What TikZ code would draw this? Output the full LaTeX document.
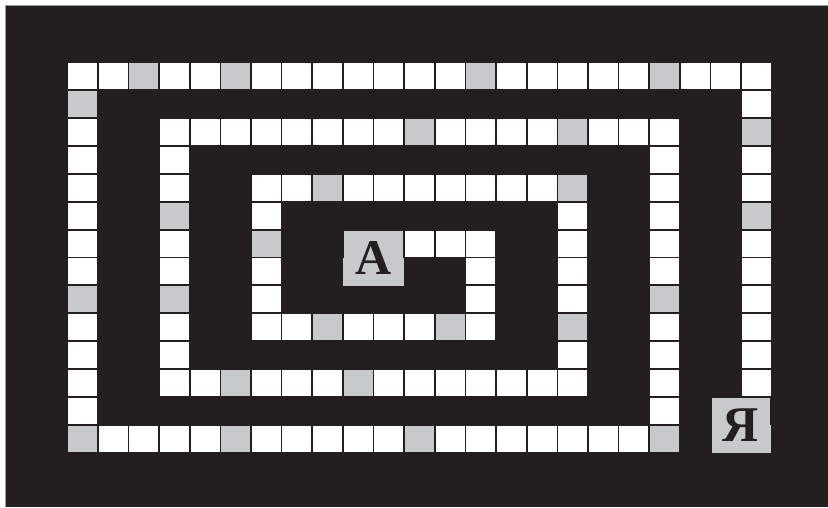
\documentclass[tikz,border=0pt]{standalone}
\usepackage{fontspec}
\setmainfont{Liberation Serif}
\definecolor{bgdark}{HTML}{231F20}
\definecolor{cellgray}{HTML}{C8C9CB}
\definecolor{edgegray}{HTML}{9A9A9A}
\tikzset{
  wcell/.style={fill=white},
  gcell/.style={fill=cellgray},
  lettertext/.style={inner sep=0pt, text=bgdark, font=\fontsize{50}{50}\selectfont\bfseries}
}
\newcommand\cellat[3]{\fill[#1] ({68+30.636*(#2)},{-(63+27.92*(#3))}) rectangle ++(29,-26);}
\begin{document}
\begin{tikzpicture}[x=1pt,y=1pt]
\useasboundingbox (0,0) rectangle (828,-507);
\fill[white] (0,0) rectangle (828,-507);
\fill[bgdark] (5.5,-5.5) rectangle (828,-507);
\draw[edgegray, line width=0.6pt] (5.5,-507) -- (5.5,-5.5) -- (828,-5.5);
% outer ring
\foreach \c in {0,...,22} {\cellat{wcell}{\c}{0}}
\foreach \r in {1,...,13} {\cellat{wcell}{0}{\r}}
\foreach \c in {1,...,19} {\cellat{wcell}{\c}{13}}
\foreach \r in {1,...,11} {\cellat{wcell}{22}{\r}}
% second ring
\foreach \c in {3,...,19} {\cellat{wcell}{\c}{2}}
\foreach \r in {3,...,12} {\cellat{wcell}{19}{\r}}
\foreach \r in {3,...,11} {\cellat{wcell}{3}{\r}}
\foreach \c in {4,...,16} {\cellat{wcell}{\c}{11}}
% third ring
\foreach \r in {4,...,10} {\cellat{wcell}{16}{\r}}
\foreach \c in {6,...,15} {\cellat{wcell}{\c}{4}}
\foreach \r in {5,...,9} {\cellat{wcell}{6}{\r}}
\foreach \c in {7,...,13} {\cellat{wcell}{\c}{9}}
\foreach \r in {6,...,8} {\cellat{wcell}{13}{\r}}
\foreach \c in {11,12} {\cellat{wcell}{\c}{6}}
% gray cells
\foreach \c/\r in {2/0,5/0,13/0,19/0,0/1,0/8,0/13,5/13,11/13,19/13,22/2,22/5,
                   11/2,16/2,19/8,3/5,3/8,5/11,9/11,
                   16/4,16/9,8/4,6/6,8/9,12/9} {\cellat{gcell}{\c}{\r}}
% start and end boxes
\fill[cellgray] (344,-231) rectangle (403,-259);
\fill[cellgray] (342.5,-258) rectangle (404,-286);
\fill[cellgray] (712,-398) rectangle (769.5,-425);
\fill[cellgray] (712,-424.5) rectangle (771,-453);
\node[lettertext] (startA) at (374,-258) {A};
\node[lettertext] (endYa) at (741,-425.5) {Я};
\end{tikzpicture}
\end{document}
